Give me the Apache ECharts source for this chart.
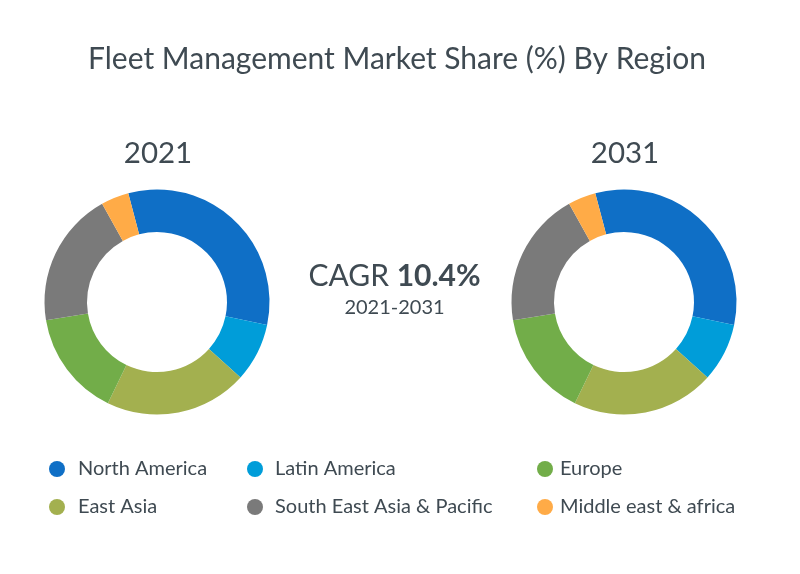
<!DOCTYPE html>
<html>
<head>
    <meta charset="UTF-8">
    <title>Fleet Management Market Share</title>
    <script src="https://cdn.jsdelivr.net/npm/echarts@6/dist/echarts.min.js"></script>
    <style>
        html, body { margin: 0; padding: 0; background: #fff; }
        #chart { width: 800px; height: 574px; }
    </style>
</head>
<body>
    <div id="chart"></div>
    <script>
    // ring order, clockwise from the top left
    var regions = ['North America', 'Latin America', 'East Asia', 'Europe', 'South East Asia & Pacific', 'Middle east & africa'];
    var colors = ['#0F6FC6', '#009DD9', '#A3B04F', '#72AD49', '#7A7A7A', '#FFAB47'];
    var share2021 = [32.4, 8.4, 20.5, 15.2, 19.5, 4.0];
    var share2031 = [32.4, 8.4, 20.5, 15.2, 19.5, 4.0];
    var years = ['2021', '2031'];

    // legend columns
    var legendCol1 = ['North America', 'East Asia'];
    var legendCol2 = ['Latin America', 'South East Asia & Pacific'];
    var legendCol3 = ['Europe', 'Middle east & africa'];

    var textColor = '#3F4A52';
    var font = 'Lato';

    function toData(values) {
        return regions.map(function (name, i) {
            return { name: name, value: values[i] };
        });
    }

    function ring(values, cx) {
        return {
            type: 'pie',
            center: [cx, 302],
            radius: [70, 112.5],
            startAngle: 104.8,
            clockwise: true,
            silent: true,
            label: { show: false },
            labelLine: { show: false },
            data: toData(values)
        };
    }

    function legendCol(names, left, gap) {
        return {
            orient: 'vertical',
            left: left,
            top: 454,
            itemWidth: 16,
            itemHeight: 16,
            itemGap: 18,
            icon: 'circle',
            selectedMode: false,
            data: names,
            textStyle: {
                fontFamily: font,
                fontSize: 20,
                color: textColor,
                padding: [0, 0, 0, gap]
            }
        };
    }

    var myChart = echarts.init(document.getElementById('chart'), null, { renderer: 'canvas' });

    myChart.setOption({
        animation: false,
        backgroundColor: '#fff',
        color: colors,
        title: [
            {
                text: 'Fleet Management Market Share (%) By Region',
                left: 392, top: 39, textAlign: 'center',
                textStyle: { fontFamily: font, fontSize: 30, fontWeight: 'normal', color: textColor }
            },
            {
                text: years[0],
                left: 153, top: 133, textAlign: 'center',
                textStyle: { fontFamily: font, fontSize: 29.5, fontWeight: 'normal', color: textColor }
            },
            {
                text: years[1],
                left: 620, top: 133, textAlign: 'center',
                textStyle: { fontFamily: font, fontSize: 29.5, fontWeight: 'normal', color: textColor }
            },
            {
                text: 'CAGR {b|10.4%}',
                left: 389.5, top: 256, textAlign: 'center',
                textStyle: {
                    fontFamily: font, fontSize: 30, fontWeight: 'normal', color: textColor,
                    rich: { b: { fontFamily: font, fontSize: 30, fontWeight: 'bold', color: textColor } }
                }
            },
            {
                text: '2021-2031',
                left: 389.5, top: 293, textAlign: 'center',
                textStyle: { fontFamily: font, fontSize: 20, fontWeight: 'normal', color: textColor }
            }
        ],
        legend: [
            legendCol(legendCol1, 44, 8),
            legendCol(legendCol2, 242, 7),
            legendCol(legendCol3, 532, 2)
        ],
        series: [
            ring(share2021, 157),
            ring(share2031, 624)
        ]
    });
    </script>
</body>
</html>
